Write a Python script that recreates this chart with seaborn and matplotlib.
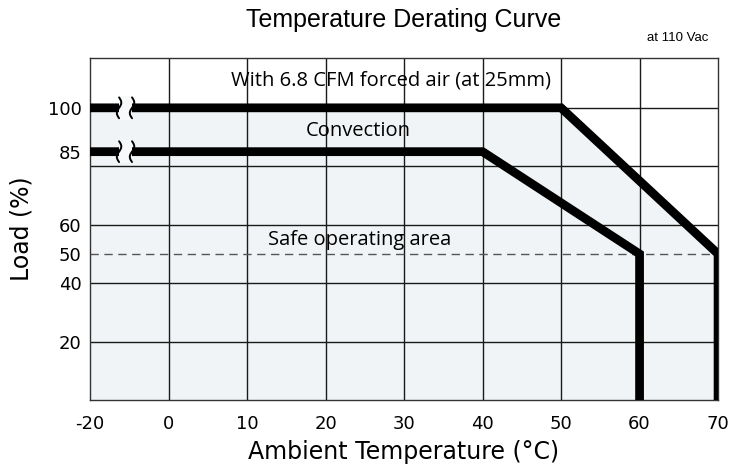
import matplotlib
matplotlib.use("Agg")
import matplotlib.pyplot as plt
import matplotlib.transforms as mtransforms
import seaborn as sns
import pandas as pd
import numpy as np
from matplotlib.patches import Rectangle

# ---- data ----
forced_temp = [-20, 50, 70, 70]
forced_load = [100, 100, 50, 0]
conv_temp = [-20, 40, 60, 60]
conv_load = [85, 85, 50, 0]
x_ticks = [-20, 0, 10, 20, 30, 40, 50, 60, 70]
y_ticks = [20, 40, 50, 60, 85, 100]
y_grid = [20, 40, 60, 80, 100]
safe_level = 50


def fwd(x):
    x = np.asarray(x, dtype=float)
    return np.where(x < 0, x / 2.0, x)


def inv(x):
    x = np.asarray(x, dtype=float)
    return np.where(x < 0, x * 2.0, x)


sns.set_theme(style="white")
plt.rcParams['font.family'] = ['DejaVu Sans']
plt.rcParams['text.color'] = 'black'
plt.rcParams['axes.labelcolor'] = 'black'
plt.rcParams['xtick.color'] = 'black'
plt.rcParams['ytick.color'] = 'black'

fig = plt.figure(figsize=(7.29, 4.69), dpi=100)
ax = fig.add_axes([0.1235, 0.147, 0.8615, 0.729])
ax.set_xscale("function", functions=(fwd, inv))

fill_c = "#f1f4f6"
ax.fill_between(forced_temp, forced_load, 0, color=fill_c, zorder=0, linewidth=0)

for v in x_ticks[1:-1]:
    ax.axvline(v, color="#1a1a1a", lw=1.0, zorder=1)
for h in y_grid:
    ax.axhline(h, color="#1a1a1a", lw=1.0, zorder=1)
ax.axhline(safe_level, color="#555555", lw=1.0, ls=(0, (6, 4)), zorder=2)

df_f = pd.DataFrame({"t": forced_temp, "l": forced_load})
df_c = pd.DataFrame({"t": conv_temp, "l": conv_load})
for d in (df_f, df_c):
    sns.lineplot(data=d, x="t", y="l", sort=False, color="black", lw=6.3,
                 ax=ax, zorder=3, solid_joinstyle="miter", solid_capstyle="butt",
                 estimator=None)

# axis-break marks on the curves
tt = np.linspace(-1, 1, 40)
sx = 1.6 * np.sin(np.pi * tt)
sy = 7.5 * tt
px = fig.dpi / 72.0
for lvl in (forced_load[0], conv_load[0]):
    ax.add_patch(Rectangle((-12.6, lvl - 4), 3.3, 8, color="#f7f9fa", zorder=4, lw=0))
    for xb in (-12.6, -9.3):
        tr = mtransforms.Affine2D().scale(px) + \
            mtransforms.ScaledTranslation(xb, lvl, ax.transData)
        ax.plot(sx, sy, color="black", lw=1.4, transform=tr, zorder=5,
                solid_capstyle="round")

ax.set_xlim(-20, 70)
ax.set_ylim(0, 117)
ax.set_xticks(x_ticks)
ax.set_xticklabels([str(v) for v in x_ticks], fontsize=13)
ax.set_yticks(y_ticks)
ax.set_yticklabels([str(v) for v in y_ticks], fontsize=13)
ax.tick_params(axis="x", length=0, pad=11)
ax.tick_params(axis="y", length=0, pad=6)
for s in ax.spines.values():
    s.set_color("#333333")
    s.set_linewidth(1.0)

ax.set_xlabel("Ambient Temperature (°C)", fontsize=17, labelpad=5)
ax.set_ylabel("Load (%)", fontsize=17, labelpad=10)

txt_font = ["Open Sans", "DejaVu Sans"]
ax.text(28.3, 109.5, "With 6.8 CFM forced air (at 25mm)", ha="center", va="center",
        fontsize=14.5, family=txt_font, zorder=6)
ax.text(24.2, 92, "Convection", ha="center", va="center", fontsize=14.5,
        family=txt_font, zorder=6)
ax.text(24.4, 54.8, "Safe operating area", ha="center", va="center", fontsize=14.5,
        family=txt_font, zorder=6)

fig.text(0.553, 0.957, "Temperature Derating Curve", ha="center", va="center",
         fontsize=18, family=["Liberation Sans", "DejaVu Sans"])
fig.text(0.972, 0.918, "at 110 Vac", ha="right", va="center",
         fontsize=9.5, family=["Liberation Sans", "DejaVu Sans"])

fig.savefig("out.png", dpi=100)
